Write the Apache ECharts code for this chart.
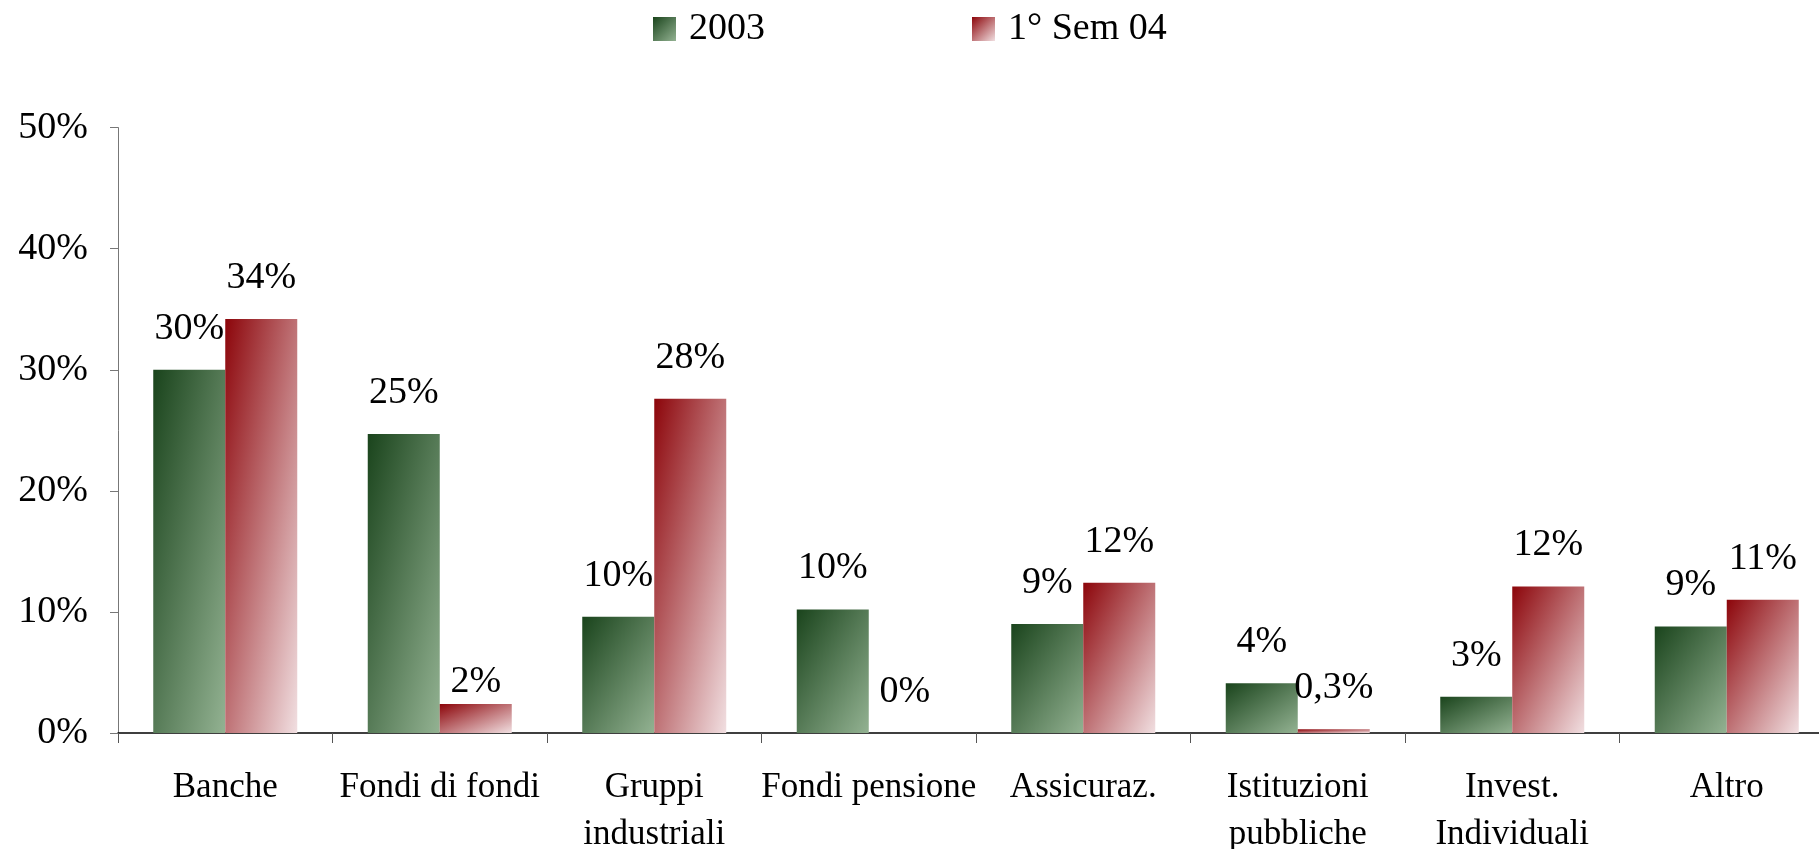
<!DOCTYPE html>
<html>
<head>
<meta charset="utf-8">
<script src="https://cdn.jsdelivr.net/npm/echarts@6/dist/echarts.min.js"></script>
<style>
    html, body { margin: 0; padding: 0; background: #fff; }
    #chart { width: 1819px; height: 849px; }
</style>
</head>
<body>
<div id="chart"></div>
<script>
// categorie e valori (in %)
const categories = ['Banche', 'Fondi di fondi', 'Gruppi\nindustriali', 'Fondi pensione', 'Assicuraz.', 'Istituzioni\npubbliche', 'Invest.\nIndividuali', 'Altro'];
const values2003 = [30.0, 24.7, 9.6, 10.2, 9.0, 4.1, 3.0, 8.8];
const valuesSem04 = [34.2, 2.4, 27.6, 0, 12.4, 0.3, 12.1, 11.0];
const labels2003 = ['30%', '25%', '10%', '10%', '9%', '4%', '3%', '9%'];
const labelsSem04 = ['34%', '2%', '28%', '0%', '12%', '0,3%', '12%', '11%'];
const yTicks = [0, 10, 20, 30, 40, 50];

const font = 'Liberation Serif';
const barW = 72;

const chart = echarts.init(document.getElementById('chart'));

// sfumatura diagonale "alla Excel": il colore dipende da x/w + y/h
const grad = (dark, light, h) => {
    h = Math.max(h, 1);
    const w = barW;
    const d = w * w + h * h;
    return new echarts.graphic.LinearGradient(0, 0, 2 * h * h / d, 2 * w * w / d, [
        { offset: 0, color: dark },
        { offset: 1, color: light },
    ]);
};

const GREEN = ['#1a441c', '#93b292'];
const RED = ['#8c050a', '#f1dfe1'];

const makeLabel = arr => ({
    show: true,
    position: 'top',
    distance: 22,
    fontFamily: font,
    fontSize: 38,
    color: '#000',
    formatter: p => arr[p.dataIndex],
});

const option = {
    animation: false,
    textStyle: { fontFamily: font, color: '#000' },
    legend: {
        left: 648,
        top: 5,
        icon: 'rect',
        itemWidth: 23,
        itemHeight: 24,
        itemGap: 207,
        textStyle: { fontFamily: font, fontSize: 38, color: '#000', padding: [0, 0, 0, 8] },
        data: ['2003', '1° Sem 04'],
    },
    grid: {
        left: 118,
        top: 127.6,
        width: 1716,
        bottom: 116,
        containLabel: false,
        outerBoundsMode: 'none',
    },
    xAxis: {
        type: 'category',
        data: categories,
        axisLine: { lineStyle: { color: '#000', width: 1.5 } },
        axisTick: { show: true, length: 10, lineStyle: { color: '#555' } },
        axisLabel: {
            fontFamily: font,
            fontSize: 35,
            color: '#000',
            margin: 31,
            lineHeight: 47,
            interval: 0,
        },
    },
    yAxis: {
        type: 'value',
        min: yTicks[0],
        max: yTicks[yTicks.length - 1],
        interval: 10,
        splitLine: { show: false },
        axisLine: { show: true, lineStyle: { color: '#777' } },
        axisTick: { show: true, length: 8, lineStyle: { color: '#777' } },
        axisLabel: {
            fontFamily: font,
            fontSize: 38,
            color: '#000',
            margin: 30,
            formatter: '{value}%',
        },
    },
    series: [
        {
            name: '2003',
            type: 'bar',
            barWidth: barW,
            barGap: '0%',
            itemStyle: { color: grad(GREEN[0], GREEN[1], barW) },
            label: makeLabel(labels2003),
            data: values2003,
        },
        {
            name: '1° Sem 04',
            type: 'bar',
            barWidth: barW,
            barGap: '0%',
            itemStyle: { color: grad(RED[0], RED[1], barW) },
            label: makeLabel(labelsSem04),
            data: valuesSem04,
        },
    ],
};

chart.setOption(option);

// altezza in pixel di ogni barra, dalla scala dell'asse, per la sfumatura
const y0 = chart.convertToPixel({ yAxisIndex: 0 }, 0);
const heightOf = v => y0 - chart.convertToPixel({ yAxisIndex: 0 }, v);

chart.setOption({
    series: [
        {
            data: values2003.map(v => ({ value: v, itemStyle: { color: grad(GREEN[0], GREEN[1], heightOf(v)) } })),
        },
        {
            data: valuesSem04.map((v, i) => {
                const item = { value: v, itemStyle: { color: grad(RED[0], RED[1], heightOf(v)) } };
                // l'etichetta di "Fondi di fondi" è più vicina alla barra
                if (i === 1) item.label = { distance: 3 };
                return item;
            }),
        },
    ],
});
</script>
</body>
</html>
